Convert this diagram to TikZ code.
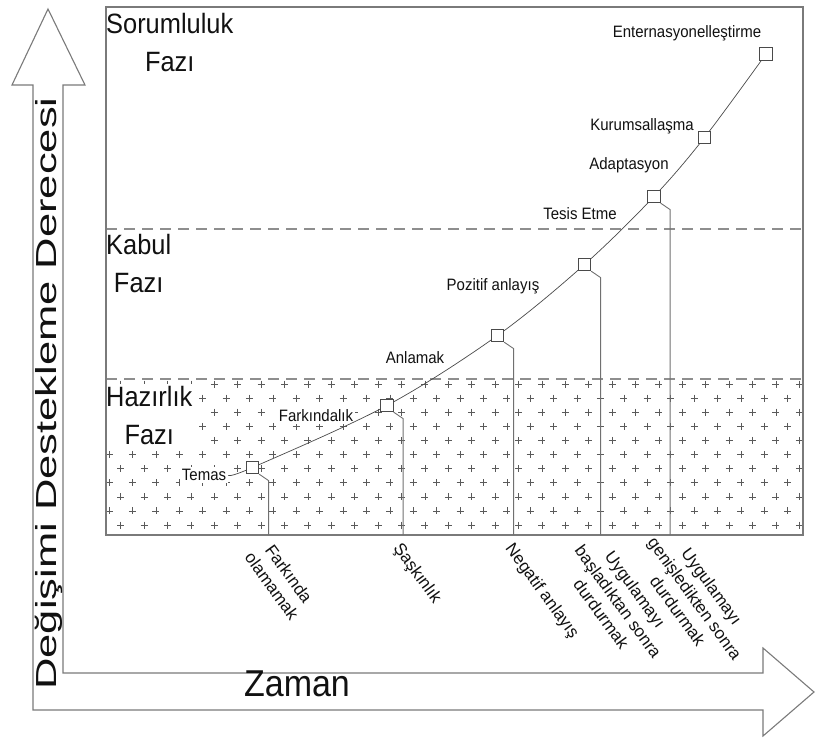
\documentclass[tikz,border=0pt]{standalone}
\usepackage{fontspec}
\setmainfont{Liberation Sans}
\definecolor{frameg}{HTML}{7A7A7A}
\definecolor{dashg}{HTML}{8E8E8E}
\definecolor{curveg}{HTML}{4A4A4A}
\definecolor{dropg}{HTML}{707070}
\definecolor{plusg}{HTML}{5A5A5A}
\definecolor{inkc}{HTML}{111111}
\begin{document}
\begin{tikzpicture}[x=1pt,y=-1pt,
  bigarrow/.style={draw=frameg, line width=1.1pt, line join=miter},
  frame/.style={draw=frameg, line width=1.1pt},
  phaseline/.style={draw=dashg, line width=1.5pt, dash pattern=on 11pt off 7pt},
  plus/.style={draw=plusg, line width=0.55pt},
  curve/.style={draw=curveg, line width=0.7pt},
  drop/.style={draw=dropg, line width=0.9pt},
  stepsq/.style={draw=curveg, line width=0.8pt, fill=white, minimum size=12.5pt, inner sep=0pt},
  phase/.style={align=center, anchor=north west, inner sep=2pt, fill=white, text=inkc,
    yscale=1.1, font=\fontsize{25.4}{34}\selectfont},
  stage/.style={anchor=mid, inner sep=2pt, fill=white, text=inkc, yscale=1.1,
    font=\fontsize{15}{18}\selectfont},
  stop/.style={rotate=-54, anchor=north west, align=center, inner sep=0pt, text=inkc,
    font=\fontsize{17}{21}\selectfont}]

\useasboundingbox (0,0) rectangle (816,738);

% hollow axis arrows, drawn as one outline
\draw[bigarrow] (33,85) -- (12,85) -- (48,9) -- (85,85) -- (63,85) -- (63,673)
  -- (763,673) -- (763,648) -- (814,692) -- (763,736) -- (763,710) -- (33,710) -- cycle;

\node[rotate=90, anchor=base, inner sep=0pt, text=inkc, font=\fontsize{29}{29}\selectfont]
  (ylab) at (56,393.5) {\scalebox{1.50}[1]{Değişimi Destekleme Derecesi}};
\node[anchor=mid, text=inkc, yscale=1.1, font=\fontsize{34}{34}\selectfont] (xlab) at (297,694) {Zaman};

% cross-hatched preparation band
\begin{scope}
  \clip (106,379) rectangle (803,535);
  \foreach \j in {0,...,10}{
    \pgfmathsetmacro{\yy}{384+14.1*\j}
    \pgfmathsetmacro{\off}{mod(\j,2)*11.7}
    \foreach \k in {0,...,30}{
      \pgfmathsetmacro{\xx}{97.3+\off+23.4*\k}
      \draw[plus] (\xx-3.5,\yy) -- ++(7,0) (\xx,\yy-3.5) -- ++(0,7);
    }
  }
\end{scope}

% phase boundaries
\coordinate (b1l) at (106,229); \coordinate (b1r) at (803,229);
\coordinate (b2l) at (106,379); \coordinate (b2r) at (803,379);
\draw[phaseline] (b1l) -- (b1r);
\draw[phaseline] (b2l) -- (b2r);

% phase names
\node[phase] (ph3) at (104,11) {Sorumluluk\\Fazı};
\node[phase] (ph2) at (104,232) {Kabul\\Fazı};
\node[phase] (ph1) at (104,384) {Hazırlık\\Fazı};

% stage names along the curve
\node[stage] (temas) at (204,478) {Temas};
\node[stage] (fark)  at (316,419) {Farkındalık};
\node[stage] (anla)  at (415,361) {Anlamak};
\node[stage] (poz)   at (493,288) {Pozitif anlayış};
\node[stage] (tesis) at (580,217) {Tesis Etme};
\node[stage] (adap)  at (629,167) {Adaptasyon};
\node[stage] (kurum) at (642,128) {Kurumsallaşma};
\node[stage] (enter) at (687,35)  {Enternasyonelleştirme};

% outer frame
\draw[frame] (106,7) rectangle (803,535);
\coordinate (fb) at (0,535);

% stage points
\coordinate (p1) at (252.5,467.5);
\coordinate (p2) at (387,405.5);
\coordinate (p3) at (497.5,335.5);
\coordinate (p4) at (584.5,264.5);
\coordinate (p5) at (654,196.5);
\coordinate (p6) at (704.5,137.5);
\coordinate (p7) at (766,54);

\draw[curve] plot[smooth, tension=0.55] coordinates {(temas.east) (p1) (p2) (p3) (p4) (p5) (p6) (p7)};

\node[stepsq] (s1) at (p1) {};
\node[stepsq] (s2) at (p2) {};
\node[stepsq] (s3) at (p3) {};
\node[stepsq] (s4) at (p4) {};
\node[stepsq] (s5) at (p5) {};
\node[stepsq] (s6) at (p6) {};
\node[stepsq] (s7) at (p7) {};

% exits from the curve
\draw[drop] (s1.south east) -- ++(9.5,6.5) coordinate (d1) -- (d1 |- fb);
\draw[drop] (s2.south east) -- ++(9.5,6.5) coordinate (d2) -- (d2 |- fb);
\draw[drop] (s3.south east) -- ++(9.5,6.5) coordinate (d3) -- (d3 |- fb);
\draw[drop] (s4.south east) -- ++(9.5,6.5) coordinate (d4) -- (d4 |- fb);
\draw[drop] (s5.south east) -- ++(9.5,6.5) coordinate (d5) -- (d5 |- fb);

% names of the exits
\node[stop] (e1) at (271,538) {Farkında\\olamamak};
\node[stop] (e2) at (403,541) {Şaşkınlık};
\node[stop] (e3) at (515,541) {Negatif anlayış};
\node[stop] (e4) at (601,531) {Uygulamayı\\başladıktan sonra\\durdurmak};
\node[stop] (e5) at (674,523) {Uygulamayı\\genişledikten sonra\\durdurmak};

\end{tikzpicture}
\end{document}
